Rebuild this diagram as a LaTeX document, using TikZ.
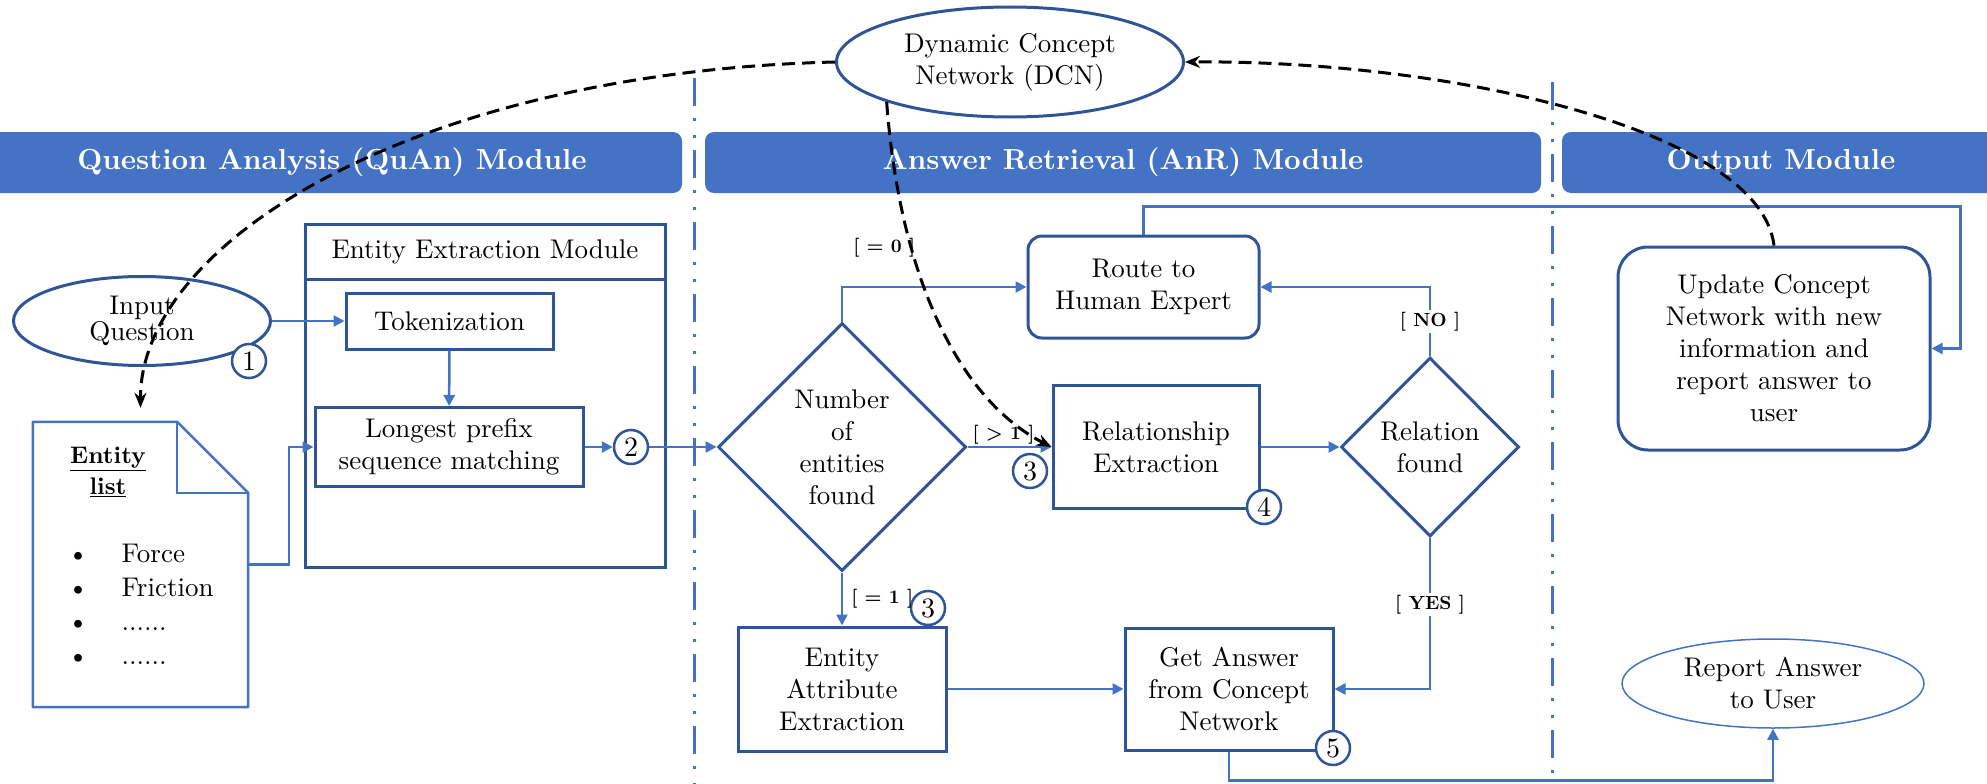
\documentclass[tikz,border=0pt]{standalone}
\usepackage{fontspec}
\setmainfont{lmroman10-regular}[Extension=.otf,BoldFont=lmroman10-bold,ItalicFont=lmroman10-italic]
\usetikzlibrary{arrows.meta,shapes.geometric}
\definecolor{hdrblue}{HTML}{4472C4}
\definecolor{boxblue}{HTML}{2F5597}
\newcommand\txtfont{\fontsize{27}{32}\selectfont}
\newcommand\hdrfont{\fontsize{29}{35}\selectfont\bfseries}
\newcommand\lblfont{\fontsize{19}{22}\selectfont\bfseries}
\newcommand\numfont{\fontsize{28}{30}\selectfont}
\tikzset{
  hdr/.style={fill=hdrblue,rounded corners=9pt,text=white,font=\hdrfont,minimum height=61pt},
  box/.style={draw=boxblue,line width=3pt,align=center,font=\txtfont,inner sep=0pt},
  rbox/.style={box,rounded corners=14pt},
  dec/.style={box,diamond,aspect=1},
  oval/.style={box,ellipse},
  numc/.style={circle,draw=boxblue,fill=white,line width=2.5pt,inner sep=0pt,minimum size=34pt,font=\numfont},
  flow/.style={draw=hdrblue,line width=2.5pt,->},
  lbl/.style={font=\lblfont,inner sep=2pt},
  dcnlink/.style={black,line width=3pt,dash pattern=on 13pt off 7pt,-{Stealth[length=15pt,width=12pt]}},
  lane/.style={hdrblue,line width=3pt,dash pattern=on 28pt off 12pt on 3pt off 14pt on 3pt off 12pt}
}
\begin{document}
\begin{tikzpicture}[x=1pt,y=-1pt,>={Triangle[length=11pt,width=11pt]}]
\useasboundingbox (0,0) rectangle (1987,784);
% module bars and lanes
\node[hdr,minimum width=700pt] (quan) at (332,162.5) {Question Analysis (QuAn) Module};
\node[hdr,minimum width=836pt] (anr) at (1123,162.5) {Answer Retrieval (AnR) Module};
\node[hdr,minimum width=438pt] (outm) at (1781,162.5) {Output Module};
\draw[lane] (694,78) -- (694,784);
\draw[lane] (1552,82) -- (1552,784);
\node[oval,minimum width=347pt,minimum height=110pt] (dcn) at (1010,62) {Dynamic Concept\\Network (DCN)};
% question analysis
\node[oval,minimum width=257pt,minimum height=89pt,font=\fontsize{27}{26}\selectfont] (inq) at (142,321) {Input\\Question};
\node[box,minimum width=360pt,minimum height=343pt] (eem) at (485,395.5) {};
\node[box,minimum width=360pt,minimum height=55pt] (eemt) at (485,251.5) {Entity Extraction Module};
\node[box,minimum width=207pt,minimum height=56pt] (tok) at (449.5,321) {Tokenization};
\node[box,minimum width=268pt,minimum height=79pt] (lpm) at (449,447) {Longest prefix\\sequence matching};
\node[minimum width=215pt,minimum height=285pt,inner sep=0pt] (elist) at (140.5,564.5) {};
\draw[hdrblue,line width=2.5pt,line join=round] (elist.north west) -- ([xshift=-71pt]elist.north east)
  -- ([yshift=-71pt]elist.north east) -- (elist.south east) -- (elist.south west) -- cycle;
\draw[hdrblue,line width=2.5pt] ([xshift=-71pt]elist.north east) -- ([xshift=-71pt,yshift=-71pt]elist.north east)
  -- ([yshift=-71pt]elist.north east);
\node[font=\fontsize{24}{31}\selectfont\bfseries,align=center] (etitle) at (108,472) {\underline{Entity}\\\underline{list}};
\node[font=\fontsize{27}{34}\selectfont,align=left,anchor=west] (eitems) at (64,604)
  {\textbullet\hspace{33pt}Force\\\textbullet\hspace{33pt}Friction\\\textbullet\hspace{33pt}......\\\textbullet\hspace{33pt}......};
% answer retrieval
\node[dec,minimum width=248pt,minimum height=248pt] (num) at (842,447) {Number\\of\\entities\\found};
\node[rbox,minimum width=231pt,minimum height=102pt] (route) at (1143.5,287) {Route to\\Human Expert};
\node[box,minimum width=206pt,minimum height=123pt] (rel) at (1156,447) {Relationship\\Extraction};
\node[dec,minimum width=178pt,minimum height=179pt] (found) at (1430,447) {Relation\\found};
\node[box,minimum width=208pt,minimum height=124pt] (attr) at (842,689) {Entity\\Attribute\\Extraction};
\node[box,minimum width=208pt,minimum height=122pt] (ans) at (1229,689) {Get Answer\\from Concept\\Network};
% output
\node[rbox,rounded corners=30pt,minimum width=312pt,minimum height=203pt] (upd) at (1774,348.5)
  {Update Concept\\Network with new\\information and\\report answer to\\user};
\node[oval,line width=1.5pt,draw=hdrblue,minimum width=302pt,minimum height=89pt] (report) at (1773,683.5) {Report Answer\\to User};
% step numbers
\node[numc] (n1) at (249,361) {1};
\node[numc] (n2) at (631,447) {2};
\node[numc] (n3a) at (1030,471) {3};
\node[numc] (n3b) at (928,608) {3};
\node[numc] (n4) at (1264,507) {4};
\node[numc] (n5) at (1333,748) {5};
% flow
\draw[flow] (inq.east) -- (tok.west);
\draw[flow] (tok) -- (lpm);
\draw[flow] (elist.east) -- ++(41,0) |- (lpm.west);
\draw[flow] (lpm) -- (n2);
\draw[flow] (n2) -- (num);
\draw[flow] (num.north) |- node[lbl,pos=0.5,anchor=south west,xshift=8pt,yshift=27pt]{[ = 0 ]} (route.west);
\draw[flow] (num.east) -- node[lbl,above,xshift=-6pt]{[ > 1 ]} (rel.west);
\draw[flow] (num.south) -- node[lbl,right,xshift=6pt]{[ = 1 ]} (attr.north);
\draw[flow] (rel.east) -- (found.west);
\draw[flow] (found.north) |- node[lbl,pos=0.25,fill=white]{[ NO ]} (route.east);
\draw[flow] (found.south) |- node[lbl,pos=0.22,fill=white]{[ YES ]} (ans.east);
\draw[flow] (attr) -- (ans);
\draw[flow] (route.north) -- ++(0,-28) -| ([xshift=29pt]upd.east) -- (upd.east);
\draw[flow] (ans.south) -- ++(0,29) -| (report.south);
% concept network links
\draw[dcnlink] (dcn.west) .. controls (420,72) and (140,240) .. ([yshift=14pt]elist.north);
\draw[dcnlink] (dcn.198) .. controls (900,280) and (960,400) .. (rel.west);
\draw[dcnlink] (upd.north) .. controls (1760,130) and (1450,60) .. (dcn.east);
\end{tikzpicture}
\end{document}
